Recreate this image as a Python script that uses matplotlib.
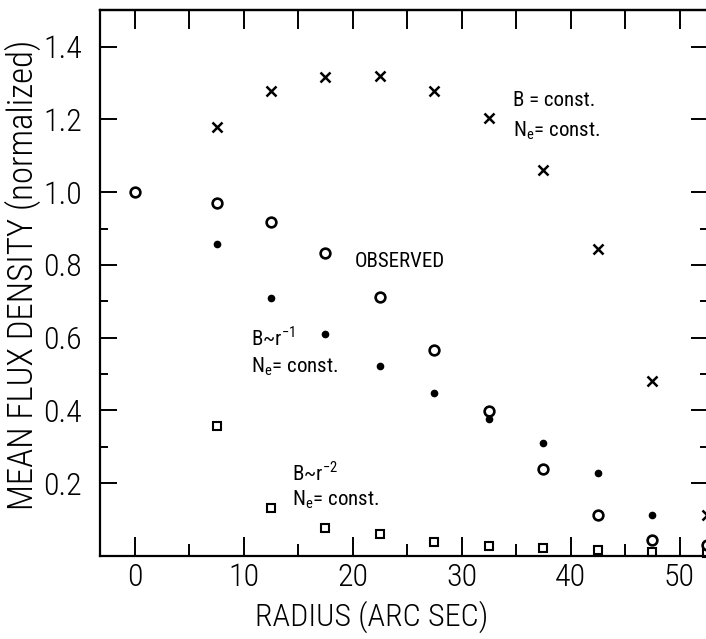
import matplotlib
matplotlib.use('Agg')
import matplotlib.pyplot as plt
from matplotlib import font_manager as fm
from matplotlib.ticker import FixedLocator

# look for a narrow face, the original uses a condensed plotter lettering
names = {f.name for f in fm.fontManager.ttflist}
narrow = [n for n in ['Liberation Sans Narrow', 'Roboto Condensed', 'Open Sans Condensed'] if n in names]
plt.rcParams['font.family'] = narrow + ['DejaVu Sans']
plt.rcParams['font.stretch'] = 'condensed'
plt.rcParams['font.weight'] = 'light'
plt.rcParams['axes.labelweight'] = 'light'

# radius (arc sec)
radius = [0, 7.5, 12.5, 17.5, 22.5, 27.5, 32.5, 37.5, 42.5, 47.5, 52.5]
r_model = [7.5, 12.5, 17.5, 22.5, 27.5, 32.5, 37.5, 42.5, 47.5, 52.5]

# observed mean flux density (open circles)
observed = [1.0, 0.97, 0.918, 0.832, 0.712, 0.566, 0.398, 0.239, 0.113, 0.044, 0.03]
# B = const, Ne = const (crosses)
b_const = [1.18, 1.277, 1.316, 1.319, 1.277, 1.203, 1.06, 0.843, 0.48, 0.113]
# B ~ r^-1 (filled dots), last one is off the picture
b_r1 = [0.857, 0.709, 0.61, 0.522, 0.448, 0.376, 0.31, 0.228, 0.113]
# B ~ r^-2 (squares)
b_r2 = [0.357, 0.132, 0.077, 0.06, 0.038, 0.027, 0.022, 0.016, 0.011, 0.008]

fig = plt.figure(figsize=(7.06, 6.39), dpi=100)
ax = fig.add_axes([0.1416, 0.13, 0.861, 0.854])

ax.plot(radius, observed, 'o', ms=7, mfc='white', mec='black', mew=1.9, clip_on=False, zorder=3)
ax.plot(r_model, b_const, 'x', ms=7, color='black', mew=1.8, clip_on=False, zorder=3)
ax.plot(r_model[:len(b_r1)], b_r1, 'o', ms=4.5, color='black', clip_on=False, zorder=4)
ax.plot(r_model, b_r2, 's', ms=6, mfc='white', mec='black', mew=1.5, clip_on=False, zorder=2)

ax.set_xlim(-3.2, 52.6)
ax.set_ylim(0, 1.5)

ax.xaxis.set_major_locator(FixedLocator([0, 10, 20, 30, 40, 50]))
ax.xaxis.set_minor_locator(FixedLocator([5, 15, 25, 35, 45]))
ax.yaxis.set_major_locator(FixedLocator([0.2, 0.4, 0.6, 0.8, 1.0, 1.2, 1.4]))
ax.yaxis.set_minor_locator(FixedLocator([0.3, 0.5, 0.7, 0.9]))
ax.set_yticklabels(['0.2', '0.4', '0.6', '0.8', '1.0', '1.2', '1.4'])

ax.tick_params(which='both', direction='in', width=1.4, labelsize=23, right=True)
ax.tick_params(axis='x', which='major', length=14, pad=5)
ax.tick_params(axis='x', which='minor', length=9)
ax.tick_params(axis='y', which='major', length=12, pad=13)
ax.tick_params(axis='y', which='minor', length=6)

top = ax.secondary_xaxis('top')
top.xaxis.set_major_locator(FixedLocator([0, 5, 10, 15, 20, 25, 30, 35, 40, 45, 50]))
top.tick_params(direction='in', length=14, width=1.4, labeltop=False)
top.spines['top'].set_linewidth(1.6)

for s in ax.spines.values():
    s.set_linewidth(1.6)

ax.set_xlabel('RADIUS (ARC SEC)', fontsize=23)
ax.set_ylabel('MEAN FLUX DENSITY (normalized)', fontsize=25)
ax.xaxis.set_label_coords(0.447, -0.082)
ax.yaxis.set_label_coords(-0.097, 0.515)

fs = 15
kw = dict(fontsize=fs, va='center', fontweight='normal')
ax.text(34.7, 1.253, 'B = const.', **kw)
ax.text(34.7, 1.17, r'N$_\mathregular{e}$= const.', **kw)
ax.text(20.2, 0.808, 'OBSERVED', **kw)
ax.text(10.7, 0.60, r'B~r$^\mathregular{-1}$', **kw)
ax.text(10.7, 0.52, r'N$_\mathregular{e}$= const.', **kw)
ax.text(14.4, 0.23, r'B~r$^\mathregular{-2}$', **kw)
ax.text(14.4, 0.154, r'N$_\mathregular{e}$= const.', **kw)

fig.savefig('out.png', dpi=100)
